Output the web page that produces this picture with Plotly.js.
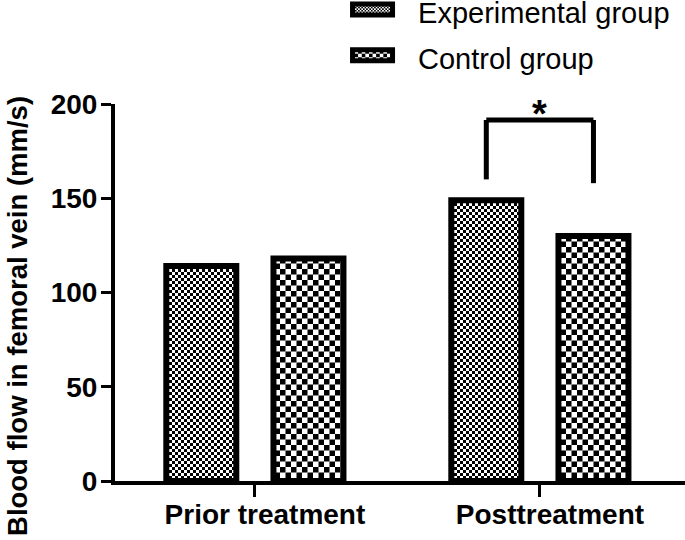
<!DOCTYPE html>
<html>
<head>
<meta charset="utf-8">
<script src="https://cdn.plot.ly/plotly-3.0.1.min.js"></script>
<style>html,body{margin:0;padding:0;background:#fff;}#chart{width:685px;height:540px;}</style>
</head>
<body>
<div id="chart"></div>
<script>
// ---- data ----
const categories = ['Prior treatment', 'Posttreatment'];
const seriesNames = ['Experimental group', 'Control group'];
const expValues = [114, 149];
const ctrlValues = [118, 130];
const yTickVals = [0, 50, 100, 150, 200];
const yTitle = 'Blood flow in femoral vein (mm/s)';
// significance bracket between the two Posttreatment bars
const sigCategoryIndex = 1;
const sigTop = 191.5;
const sigLeftBottom = 160;
const sigRightBottom = 158;
const sigLabel = '*';

// ---- styles ----
const FONT = 'Liberation Sans, Arial, sans-serif';
const barWidth = 0.2456;
const expOffset = -0.311;
const ctrlOffset = 0.065;

const traces = [
  {
    type: 'bar', name: seriesNames[0], x: categories, y: expValues, legendgroup: 'a',
    width: barWidth, offset: expOffset,
    marker: {color: '#ffffff', line: {color: '#000', width: 6},
      pattern: {shape: '.', fgcolor: '#000', bgcolor: '#fff', size: 6, solidity: 0.5}}
  },
  {
    type: 'bar', name: seriesNames[1], x: categories, y: ctrlValues, legendgroup: 'b',
    width: barWidth, offset: ctrlOffset,
    marker: {color: '#ffffff', line: {color: '#000', width: 6},
      pattern: {shape: '.', fgcolor: '#000', bgcolor: '#fff', size: 11, solidity: 0.5}}
  }
];

const xL = sigCategoryIndex + expOffset + barWidth / 2;
const xR = sigCategoryIndex + ctrlOffset + barWidth / 2;
const lineStyle = {color: '#000', width: 5};
const boldFont = (size) => ({family: FONT, size: size, weight: 'bold', color: '#000'});

const layout = {
  width: 685, height: 540,
  margin: {l: 115, r: 0, t: 104, b: 59},
  paper_bgcolor: '#fff', plot_bgcolor: '#fff',
  showlegend: true,
  font: {family: FONT, color: '#000'},
  xaxis: {
    type: 'category', range: [-0.491, 1.509],
    showline: true, linecolor: '#000', linewidth: 4,
    ticks: 'outside', ticklen: 12, tickwidth: 3, tickcolor: '#000',
    showgrid: false, zeroline: false,
    ticklabelshift: 10, ticklabelstandoff: -7,
    tickfont: boldFont(28)
  },
  yaxis: {
    range: [0, 200], tickvals: yTickVals,
    showline: true, linecolor: '#000', linewidth: 4,
    ticks: 'outside', ticklen: 10, tickwidth: 3, tickcolor: '#000',
    showgrid: false, zeroline: false,
    ticklabelstandoff: -2,
    tickfont: boldFont(28)
  },
  legend: {
    x: 0.372, xanchor: 'left', y: 1.27, yanchor: 'top',
    font: {family: FONT, size: 29, color: '#000'},
    bgcolor: 'rgba(0,0,0,0)', itemwidth: 81, tracegroupgap: 5, traceorder: 'grouped'
  },
  shapes: [
    {type: 'line', xref: 'x', yref: 'y', x0: xL, x1: xL, y0: sigLeftBottom, y1: sigTop, line: lineStyle},
    {type: 'line', xref: 'x', yref: 'y', x0: xR, x1: xR, y0: sigRightBottom, y1: sigTop, line: lineStyle},
    {type: 'line', xref: 'x', yref: 'y', x0: xL, x1: xR, y0: sigTop, y1: sigTop, line: lineStyle}
  ],
  annotations: [
    {xref: 'x', yref: 'y', x: (xL + xR) / 2, y: sigTop + 3, yanchor: 'middle', xanchor: 'center',
     text: sigLabel, showarrow: false, font: boldFont(38)},
    {xref: 'paper', yref: 'paper', x: -0.1702, y: 0.4377, xanchor: 'center', yanchor: 'middle',
     textangle: -90, text: yTitle, showarrow: false, font: boldFont(27.5)}
  ]
};

const NS = 'http://www.w3.org/2000/svg';
function checker(pat, cell) {
  while (pat.firstChild) pat.removeChild(pat.firstChild);
  const s = cell * 2;
  pat.setAttribute('width', s);
  pat.setAttribute('height', s);
  pat.setAttribute('patternUnits', 'userSpaceOnUse');
  const mk = (x, y, w, h, c) => {
    const r = document.createElementNS(NS, 'rect');
    r.setAttribute('x', x); r.setAttribute('y', y);
    r.setAttribute('width', w); r.setAttribute('height', h);
    r.setAttribute('fill', c);
    pat.appendChild(r);
  };
  mk(0, 0, s, s, '#fff');
  mk(0, 0, cell, cell, '#000');
  mk(cell, cell, cell, cell, '#000');
}
function applyChecker(el, cell) {
  const f = el.style.fill || el.getAttribute('fill') || '';
  const m = /#([^"')]+)/.exec(f);
  if (!m) return;
  const pat = document.getElementById(m[1]);
  if (pat) checker(pat, cell);
}
function fix(gd) {
  const barCells = [3, 5.5];
  const legCells = [2, 4.5];
  gd.querySelectorAll('.barlayer .trace').forEach((tr, i) => {
    tr.querySelectorAll('path').forEach(p => applyChecker(p, barCells[i]));
  });
  gd.querySelectorAll('.legend .traces').forEach((tr, i) => {
    tr.querySelectorAll('.legendpoints path').forEach(p => {
      p.setAttribute('d', 'M20,3.5H-20V-7.5H20Z');
      p.style.strokeWidth = '5px';
      applyChecker(p, legCells[i]);
    });
  });
  const lg = gd.querySelector('g.legend');
  if (lg) {
    lg.querySelectorAll('[clip-path]').forEach(e => e.removeAttribute('clip-path'));
    lg.querySelectorAll('*').forEach(e => { if (e.style && e.style.clipPath) e.style.clipPath = 'none'; });
    if (!lg.dataset.shifted) {
      const t = lg.getAttribute('transform') || '';
      const m = /translate\(\s*([-\d.]+)[ ,]+([-\d.]+)\s*\)/.exec(t);
      if (m) {
        lg.setAttribute('transform', 'translate(' + m[1] + ',' + (parseFloat(m[2]) - 16) + ')');
        lg.dataset.shifted = '1';
      }
    }
  }
}

const gd = document.getElementById('chart');
Plotly.newPlot(gd, traces, layout, {displayModeBar: false, staticPlot: true}).then(() => fix(gd));
</script>
</body>
</html>
